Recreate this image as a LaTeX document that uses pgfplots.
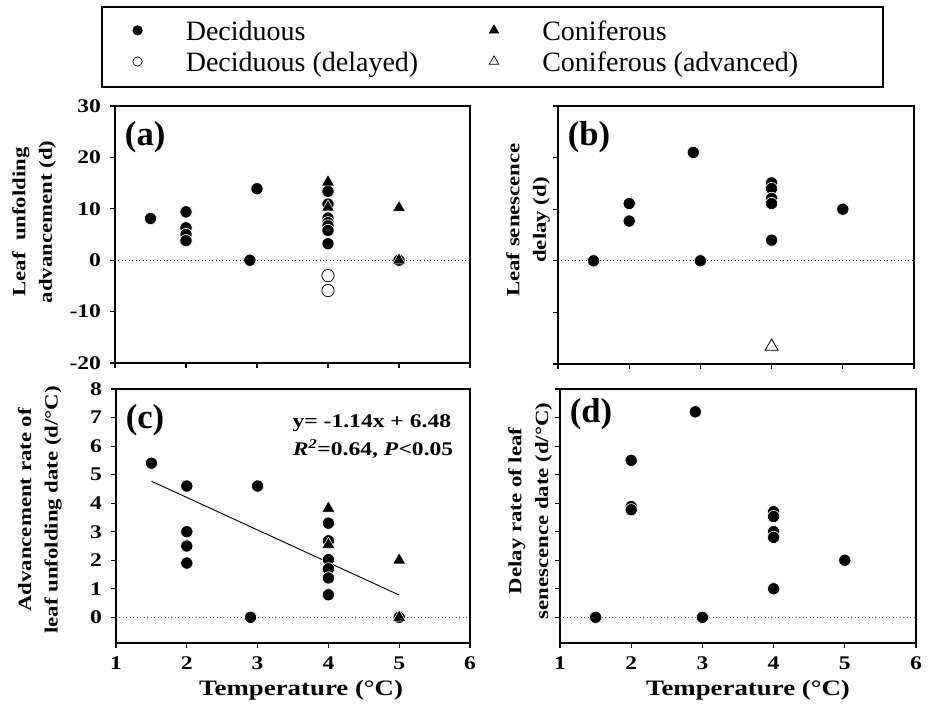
\documentclass[border=0pt]{standalone}
\usepackage{pgfplots}
\pgfplotsset{compat=1.18}
\usepackage{fontspec}
\setmainfont{Liberation Serif}
\newfontfamily\widefont{Liberation Serif}[FakeStretch=1.22]

\pgfplotsset{
  panel/.style={
    scale only axis,
    xmin=1, xmax=6, xtick={1,2,3,4,5,6},
    axis line style={line width=1.2pt},
    tick style={line width=0.8pt, black},
    major tick length=4pt,
    tick align=outside,
    xtick pos=bottom, ytick pos=left,
    /pgf/number format/assume math mode=true,
    tick label style={font=\widefont\bfseries\fontsize{14.5}{16}\selectfont},
    yticklabel style={xshift=-3pt},
    xticklabel style={yshift=-2.5pt},
    label style={font=\widefont\bfseries\fontsize{14}{20}\selectfont, align=center},
  },
  dec/.style={only marks, mark=*, mark size=4.6pt, mark options={fill=black, draw=white, line width=0.5pt}},
  decopen/.style={only marks, mark=*, mark size=4.6pt, mark options={fill=white, draw=black, line width=0.6pt}},
  con/.style={only marks, mark=triangle*, mark size=5.6pt, mark options={fill=black, draw=white, line width=0.4pt}},
  conopen/.style={only marks, mark=triangle*, mark size=5.6pt, mark options={fill=white, draw=black, line width=0.6pt}},
  zeroline/.style={black, dotted, line width=0.6pt, forget plot},
}
\tikzset{plabel/.style={font=\bfseries\fontsize{26}{28}\selectfont}}

\begin{document}
\begin{tikzpicture}
\useasboundingbox (0,0) rectangle (697.5pt,534.75pt);
\draw[line width=1.6pt] (76.5pt,469.5pt) rectangle (662.25pt,529.5pt);

% (a) leaf unfolding advancement
\begin{axis}[panel, at={(86.25pt,262.5pt)}, anchor=south west,
  width=266.25pt, height=192.75pt,
  ymin=-20, ymax=30, ytick={-20,-10,0,10,20,30}, xticklabels={},
  ylabel={Leaf\ \ unfolding\\advancement (d)},
  ylabel style={at={(axis description cs:-0.228,0.549)}, anchor=center},
  legend columns=2,
  legend cell align=left,
  legend image code/.code={\draw[#1] plot coordinates {(0pt,7.5pt)}; \path (-8pt,0pt) (36pt,0pt);},
  legend style={at={(axis description cs:0.032,1.334)}, anchor=north west,
    draw=none, fill=none, inner sep=0pt,
    font=\fontsize{21}{24}\selectfont, row sep=3.8pt,
    nodes={inner sep=0pt, text height=15pt, text depth=4.5pt, anchor=base west},
    /tikz/every even column/.append style={column sep=48.6pt}},
]
\addlegendimage{only marks, mark=*, mark size=3.6pt, mark options={fill=black, draw=black}}
\addlegendentry{Deciduous}
\addlegendimage{only marks, mark=triangle*, mark size=4.2pt, mark options={fill=black, draw=black}}
\addlegendentry{Coniferous}
\addlegendimage{only marks, mark=*, mark size=3.5pt, mark options={fill=white, draw=black, line width=0.5pt}}
\addlegendentry{Deciduous (delayed)}
\addlegendimage{only marks, mark=triangle*, mark size=4.2pt, mark options={fill=white, draw=black, line width=0.5pt}}
\addlegendentry{Coniferous (advanced)}
\addplot[zeroline] coordinates {(1,0) (6,0)};
\addplot[dec, forget plot] coordinates {
(1.5,8.1) (2,9.4) (2,6.3) (2,5.0) (2,3.8) (2.9,0) (3,13.9)
(4,13.4) (4,10.9) (4,8.2) (4,7.3) (4,6.7) (4,5.8) (4,3.2) (5,0)
};
\addplot[decopen, forget plot] coordinates {(4,-3.0) (4,-5.9)};
\addplot[con, forget plot] coordinates {(4,15.2) (4,10.3) (5,10.2) (5,0)};
\node[plabel] at (rel axis cs:0.085,0.879) {(a)};
\end{axis}

% (b) leaf senescence delay
\begin{axis}[panel, at={(418.5pt,261.75pt)}, anchor=south west,
  width=267pt, height=193.5pt,
  ymin=-20, ymax=30, ytick={-20,-10,0,10,20,30}, xticklabels={}, yticklabels={},
  ylabel={Leaf senescence\\delay (d)},
  ylabel style={at={(axis description cs:-0.084,0.558)}, anchor=center},
]
\addplot[zeroline] coordinates {(1,0) (6,0)};
\addplot[dec] coordinates {
(1.5,0) (2,11.1) (2,7.7) (2.9,21.0) (3,0)
(4,15.1) (4,14.0) (4,12.1) (4,11.1) (4,4.0) (5,10.0)
};
\addplot[conopen] coordinates {(4,-16.6)};
\node[plabel] at (rel axis cs:0.087,0.88) {(b)};
\end{axis}

% (c) advancement rate
\begin{axis}[panel, at={(87pt,52.5pt)}, anchor=south west,
  width=265.5pt, height=190.5pt,
  ymin=-0.9, ymax=8, ytick={0,1,2,3,4,5,6,7,8},
  ylabel={Advancement rate of\\leaf unfolding date (d/°C)},
  ylabel style={at={(axis description cs:-0.215,0.524)}, anchor=center},
  xlabel={Temperature (°C)},
  xlabel style={at={(axis description cs:0.523,-0.185)}, anchor=center,
    font=\widefont\bfseries\fontsize{16.5}{18}\selectfont},
]
\addplot[zeroline, black!60] coordinates {(1,0) (6,0)};
\addplot[black, line width=0.7pt] coordinates {(1.5,4.77) (5,0.78)};
\addplot[dec] coordinates {
(1.5,5.4) (2,4.6) (2,3.0) (2,2.5) (2,1.9) (2.9,0) (3,4.6)
(4,3.3) (4,2.68) (4,2.02) (4,1.7) (4,1.38) (4,0.79) (5,0)
};
\addplot[con] coordinates {(4,3.82) (4,2.55) (5,2.0) (5,0)};
\node[plabel] at (rel axis cs:0.082,0.878) {(c)};
\node[anchor=east, font=\widefont\bfseries\fontsize{14.5}{16}\selectfont]
  at (rel axis cs:0.96,0.866) {y= -1.14x + 6.48};
\node[anchor=east, font=\widefont\bfseries\fontsize{14.5}{16}\selectfont]
  at (rel axis cs:0.966,0.764) {\textit{R}\textsuperscript{\textit{2}}=0.64, \textit{P}<0.05};
\end{axis}

% (d) delay rate
\begin{axis}[panel, at={(420pt,52.5pt)}, anchor=south west,
  width=267pt, height=190.5pt,
  ymin=-0.9, ymax=8, ytick={0,1,2,3,4,5,6,7,8}, yticklabels={},
  ylabel={Delay rate of leaf\\senescence date (d/°C)},
  ylabel style={at={(axis description cs:-0.084,0.52)}, anchor=center},
  xlabel={Temperature (°C)},
  xlabel style={at={(axis description cs:0.528,-0.185)}, anchor=center,
    font=\widefont\bfseries\fontsize{16.5}{18}\selectfont},
]
\addplot[zeroline, black!60] coordinates {(1,0) (6,0)};
\addplot[dec] coordinates {
(1.5,0) (3,0) (2.9,7.2) (2,5.5) (2,3.88) (2,3.77)
(4,3.7) (4,3.53) (4,3.0) (4,2.8) (4,1.0) (5,2.0)
};
\node[plabel] at (rel axis cs:0.087,0.90) {(d)};
\end{axis}
\end{tikzpicture}
\end{document}
